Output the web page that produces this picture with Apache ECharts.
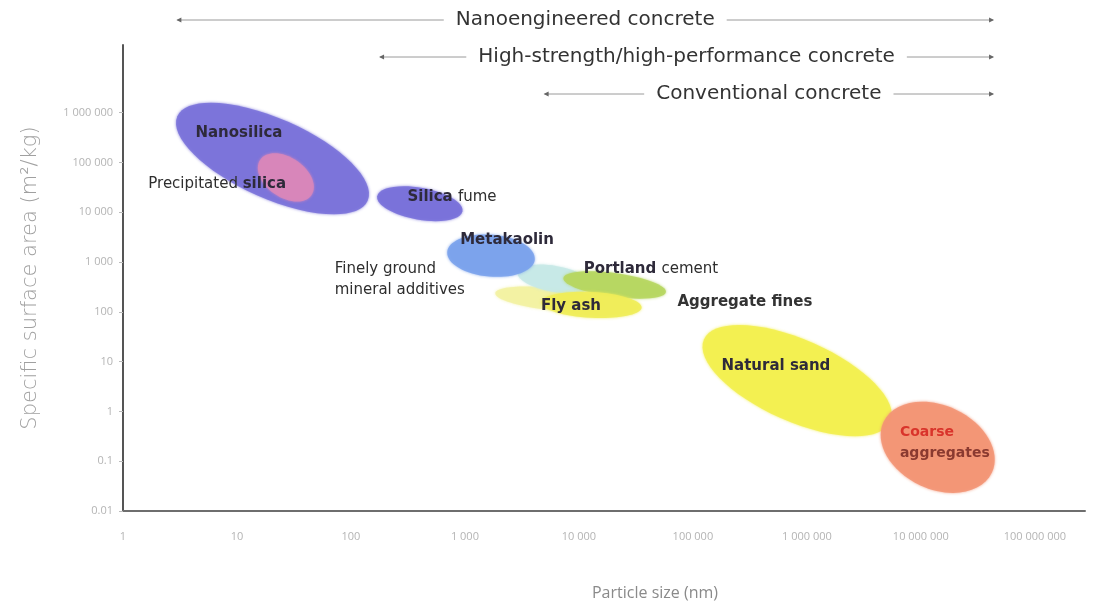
<!DOCTYPE html>
<html><head><meta charset="utf-8">
<script src="https://cdn.jsdelivr.net/npm/echarts@6/dist/echarts.min.js"></script>
<style>html,body{margin:0;padding:0;background:#fff}#c{width:1094px;height:606px}</style>
</head><body><div id="c"></div>
<script>
// ---------- data ----------
const xTickLabels = ['1', '10', '100', '1 000', '10 000', '100 000', '1 000 000', '10 000 000', '100 000 000'];
const yTickLabels = ['0.01', '0.1', '1', '10', '100', '1 000', '10 000', '100 000', '1 000 000'];

// ellipses: particle-size range (nm) along the major axis, specific surface area at both ends (m2/kg), thickness (decades)
const materials = ['Finely ground mineral additives', 'Portland cement', 'Aggregate fines', 'Fly ash', 'Metakaolin', 'Nanosilica', 'Precipitated silica', 'Silica fume', 'Natural sand', 'Coarse aggregates'];
const sizeStart = [1850, 2900, 7300, 4700, 700, 3, 16, 170, 125000, 4700000];
const sizeEnd   = [16800, 13000, 58000, 35500, 4100, 140, 45, 950, 5400000, 42000000];
const ssaStart  = [237, 620, 480, 156, 1600, 850000, 114000, 21000, 28, 0.61];
const ssaEnd    = [140, 340, 250, 122, 1130, 17000, 22000, 10500, 0.62, 0.059];
const thickness = [0.22, 0.26, 0.24, 0.26, 0.42, 0.8, 0.4, 0.32, 0.82, 0.84];

// text labels inside the plot
const labelTexts = [
  '{b|Nanosilica}',
  '{n|Precipitated }{b|silica}',
  '{b|Silica }{n|fume}',
  '{b|Metakaolin}',
  '{n|Finely ground}\n{n|mineral additives}',
  '{b|Portland }{n|cement}',
  '{b|Fly ash}',
  '{s|Aggregate fines}',
  '{b|Natural sand}',
  '{r|Coarse}\n{d|aggregates}'
];
const labelSize = [10.4, 6.7, 770, 2340, 72, 42850, 8510, 285800, 535000, 6550000];
const labelSSA  = [398000, 36300, 19950, 2750, 437, 724, 132, 158, 8.3, 0.229];
const labelAlign = ['center', 'center', 'center', 'center', 'left', 'center', 'center', 'center', 'center', 'left'];

// concrete-type ranges (nm)
const rangeNames = ['Nanoengineered concrete', 'High-strength/high-performance concrete', 'Conventional concrete'];
const rangeStart = [3, 180, 5000];
const rangeEnd   = [43000000, 43000000, 43000000];

// ---------- styles ----------
const fills = ['#f3f1a2', '#c6e8e6', '#b6d660', '#efed58', '#7aa2ec', '#7a72da', '#da86ba', '#7870da', '#f3ef4e', '#f39474'];

const log10 = Math.log10;
const ellipseData = materials.map((n, i) => [log10(sizeStart[i]), log10(ssaStart[i]), log10(sizeEnd[i]), log10(ssaEnd[i]), thickness[i], i]);
const labelData = labelTexts.map((t, i) => [log10(labelSize[i]), log10(labelSSA[i]), i]);
const rangeData = rangeNames.map((t, i) => [log10(rangeStart[i]), log10(rangeEnd[i]), i]);
const xDecades = xTickLabels.map((t, i) => i);
const yDecades = yTickLabels.map((t, i) => i - 2);

const tickFmt = (labels, offset) => (v) => labels[Math.round(v) + offset] || '';

const chart = echarts.init(document.getElementById('c'));
const baseFont = 'DejaVu Sans';
chart.setOption({
  animation: false,
  backgroundColor: '#fff',
  grid: { left: 123, right: 9, top: 45, bottom: 93, containLabel: false },
  xAxis: {
    type: 'value', min: 0, max: 8.44, interval: 1,
    name: 'Particle size (nm)', nameLocation: 'middle', nameGap: 74,
    nameTextStyle: { color: '#8a8a8a', fontSize: 16, fontFamily: 'Open Sans', padding: [0, 0, 0, 102] },
    axisLine: { onZero: false, lineStyle: { color: '#6e6e6e', width: 2 } },
    axisTick: { show: false },
    splitLine: { show: false },
    axisLabel: { customValues: xDecades, margin: 20, color: '#b4b4b4', fontSize: 11, fontFamily: 'Open Sans', formatter: tickFmt(xTickLabels, 0) }
  },
  yAxis: {
    type: 'value', min: -2, max: 7.36, interval: 1,
    name: 'Specific surface area (m²/kg)', nameLocation: 'middle', nameGap: 82,
    nameTextStyle: { color: '#a0a0a0', fontSize: 21, fontFamily: 'DejaVu Sans', fontWeight: 'lighter' },
    axisLine: { onZero: false, lineStyle: { color: '#555', width: 2 } },
    axisTick: { show: true, customValues: yDecades, length: 4, lineStyle: { color: '#bbb' } },
    splitLine: { show: false },
    axisLabel: { customValues: yDecades, margin: 10, color: '#b4b4b4', fontSize: 11, fontFamily: 'Open Sans', formatter: tickFmt(yTickLabels, 2) }
  },
  series: [
    {
      type: 'custom', name: 'materials', data: ellipseData, clip: false, silent: true,
      renderItem: (params, api) => {
        const p1 = api.coord([api.value(0), api.value(1)]);
        const p2 = api.coord([api.value(2), api.value(3)]);
        const dx = p2[0] - p1[0], dy = p2[1] - p1[1];
        const a = Math.sqrt(dx * dx + dy * dy) / 2;
        const b = api.size([0, api.value(4)])[1];
        const i = api.value(5);
        return {
          type: 'ellipse',
          x: (p1[0] + p2[0]) / 2, y: (p1[1] + p2[1]) / 2,
          rotation: -Math.atan2(dy, dx),
          shape: { cx: 0, cy: 0, rx: a, ry: b },
          style: { fill: fills[i], opacity: 0.88, shadowBlur: 3, shadowColor: fills[i] }
        };
      }
    },
    {
      type: 'custom', name: 'labels', data: labelData, clip: false, silent: true, z: 5,
      renderItem: (params, api) => {
        const p = api.coord([api.value(0), api.value(1)]);
        const i = api.value(2);
        return {
          type: 'text', x: p[0], y: p[1],
          style: {
            text: labelTexts[i], align: labelAlign[i], verticalAlign: 'middle',
            rich: {
              b: { fontFamily: baseFont, fontSize: 15, fontWeight: 'bold', fill: '#2e2a3a', color: '#2e2a3a', lineHeight: 21 },
              n: { fontFamily: baseFont, fontSize: 15, fontWeight: 'normal', fill: '#2e2e2e', color: '#2e2e2e', lineHeight: 21 },
              s: { fontFamily: baseFont, fontSize: 15, fontWeight: 'bold', fill: '#333', color: '#333', lineHeight: 21 },
              r: { fontFamily: baseFont, fontSize: 14, fontWeight: 'bold', fill: '#d9342b', color: '#d9342b', lineHeight: 21 },
              d: { fontFamily: baseFont, fontSize: 14, fontWeight: 'bold', fill: '#8a3a30', color: '#8a3a30', lineHeight: 21 }
            }
          }
        };
      }
    },
    {
      type: 'custom', name: 'ranges', data: rangeData, clip: false, silent: true, z: 6,
      renderItem: (params, api) => {
        const x1 = api.coord([api.value(0), 0])[0];
        const x2 = api.coord([api.value(1), 0])[0];
        const i = api.value(2);
        const y = params.coordSys.y - 25 + i * 37;
        const mid = (x1 + x2) / 2;
        const col = '#9a9a9a';
        return {
          type: 'group',
          children: [
            { type: 'line', shape: { x1: x1, y1: y, x2: x2, y2: y }, style: { stroke: col, lineWidth: 1 } },
            { type: 'polygon', shape: { points: [[x1 - 1, y], [x1 + 4, y - 2.5], [x1 + 4, y + 2.5]] }, style: { fill: '#666' } },
            { type: 'polygon', shape: { points: [[x2 + 1, y], [x2 - 4, y - 2.5], [x2 - 4, y + 2.5]] }, style: { fill: '#666' } },
            { type: 'text', x: mid, y: y, style: { text: rangeNames[i], align: 'center', verticalAlign: 'middle', fontFamily: baseFont, fontSize: 20, fill: '#333', backgroundColor: '#fff', padding: [2, 12] } }
          ]
        };
      }
    }
  ]
});
</script></body></html>
